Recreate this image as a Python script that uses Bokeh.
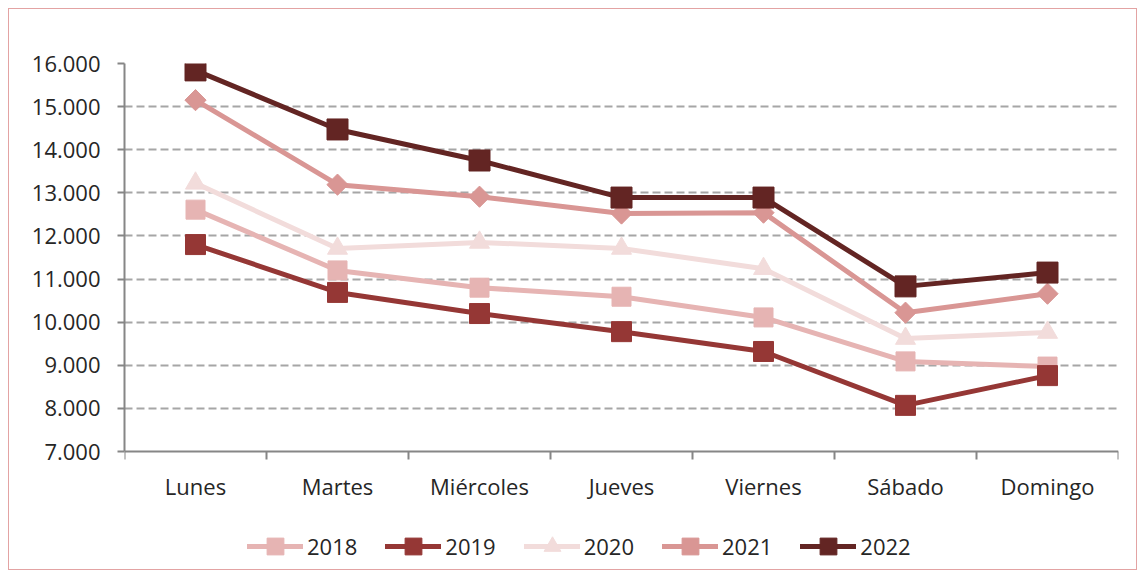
import numpy as np
from bokeh.plotting import figure
from bokeh.models import FixedTicker, Legend, LegendItem, Range1d
from bokeh.embed import file_html
from bokeh.resources import INLINE

days = ["Lunes", "Martes", "Miércoles", "Jueves", "Viernes", "Sábado", "Domingo"]
years = ["2018", "2019", "2020", "2021", "2022"]
v2018 = [12610, 11200, 10800, 10590, 10110, 9090, 8970]
v2019 = [11800, 10690, 10200, 9780, 9320, 8070, 8760]
v2020 = [13220, 11710, 11850, 11710, 11240, 9620, 9760]
v2021 = [15150, 13190, 12910, 12520, 12540, 10220, 10660]
v2022 = [15840, 14470, 13750, 12890, 12890, 10830, 11150]
y_ticks = [7000, 8000, 9000, 10000, 11000, 12000, 13000, 14000, 15000, 16000]
y_labels = ["7.000", "8.000", "9.000", "10.000", "11.000", "12.000", "13.000", "14.000", "15.000", "16.000"]

series = [v2018, v2019, v2020, v2021, v2022]
colors = ["#E6B4B3", "#953735", "#F2DCDB", "#D99694", "#632523"]
markers = ["square", "square", "triangle", "square", "square"]
sizes = [19, 20, 20, 15, 21]
angles = [0, 0, 0, np.pi / 4, 0]

FONT = "Open Sans"
FS = "22px"
TXT = "#262626"

# layout (pixels)
H, W = 562, 1129
TOP, BOT, LEFT, RIGHT = 54, 4, 115, 20
AXIS_PX = 388  # height in px of the 7.000 - 16.000 span
frame_h = H - TOP - BOT
y_lo, y_hi = y_ticks[0], y_ticks[-1]
y_start = y_lo - (frame_h - AXIS_PX) * (y_hi - y_lo) / AXIS_PX

p = figure(width=W, height=H, output_backend="svg", toolbar_location=None,
           x_range=Range1d(0, len(days)), y_range=Range1d(y_start, y_hi),
           min_border_left=LEFT, min_border_right=RIGHT, min_border_top=TOP, min_border_bottom=BOT)
p.styles = {"border": "1px solid #E3A3A3", "margin-left": "8px", "margin-top": "8px"}
p.outline_line_color = None
p.background_fill_color = "white"

xc = np.arange(len(days)) + 0.5

items = []
for yr, vals, c, m, s, a in zip(years, series, colors, markers, sizes, angles):
    ln = p.line(xc, vals, line_color=c, line_width=5, line_cap="round")
    sc = p.scatter(xc, vals, marker=m, size=s, angle=a, fill_color=c, line_color=c)
    items.append(LegendItem(label=yr, renderers=[ln, sc]))

# x axis drawn at the 7.000 level
xa = p.xaxis[0]
xa.fixed_location = y_lo
xa.ticker = FixedTicker(ticks=list(xc), minor_ticks=list(range(len(days) + 1)))
xa.major_label_overrides = {float(x): d for x, d in zip(xc, days)}
xa.major_tick_out = 0
xa.major_tick_in = 0
xa.minor_tick_out = 8
xa.minor_tick_in = 0
xa.minor_tick_line_color = "#868686"
xa.minor_tick_line_width = 2
xa.axis_line_color = "#868686"
xa.axis_line_width = 2
xa.major_label_standoff = 11
xa.major_label_text_font = FONT
xa.major_label_text_font_size = FS
xa.major_label_text_color = TXT

ya = p.yaxis[0]
ya.bounds = (y_lo, y_hi)
ya.ticker = FixedTicker(ticks=y_ticks)
ya.major_label_overrides = {t: l for t, l in zip(y_ticks, y_labels)}
ya.major_tick_out = 7
ya.major_tick_in = 0
ya.minor_tick_out = 0
ya.minor_tick_in = 0
ya.major_tick_line_color = "#868686"
ya.major_tick_line_width = 2
ya.axis_line_color = "#868686"
ya.axis_line_width = 2
ya.major_label_standoff = 17
ya.major_label_text_font = FONT
ya.major_label_text_font_size = FS
ya.major_label_text_color = TXT

p.xgrid.grid_line_color = None
p.ygrid.ticker = FixedTicker(ticks=y_ticks[1:])
p.ygrid.grid_line_color = "#A6A6A6"
p.ygrid.grid_line_width = 2
p.ygrid.grid_line_dash = "8 4"

legend = Legend(items=items, orientation="horizontal", location=(123, 0),
                glyph_width=56, glyph_height=42, label_standoff=4, spacing=28,
                padding=0, margin=0, border_line_color=None, background_fill_alpha=0,
                label_text_font=FONT, label_text_font_size=FS, label_text_color=TXT)
p.add_layout(legend, "center")

open("out.html", "w").write(file_html(p, INLINE))
